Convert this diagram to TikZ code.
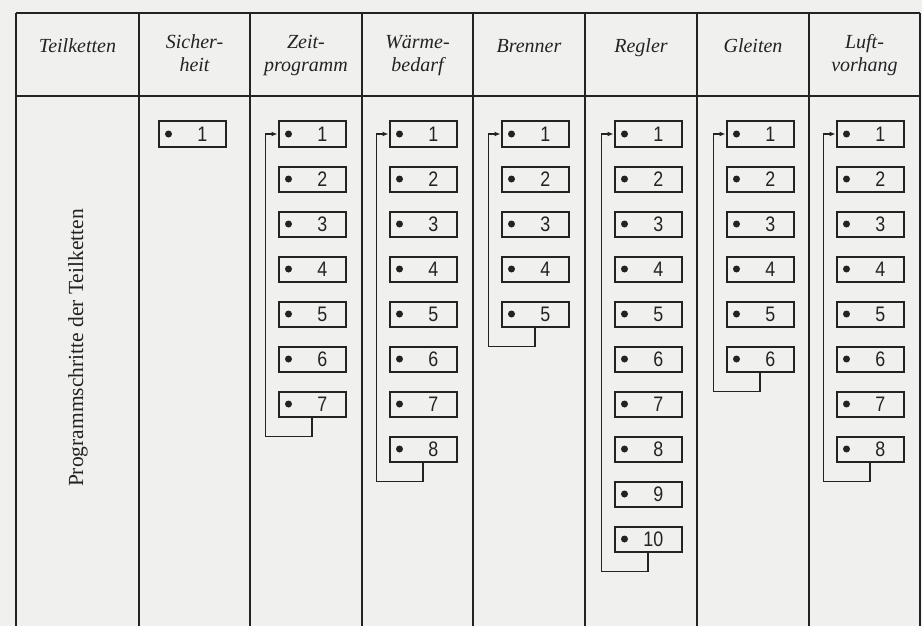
\documentclass[tikz,border=0pt]{standalone}
\usepackage{fontspec}
\setmainfont{Liberation Serif}
\newfontfamily\ziffern[FakeStretch=0.85]{Liberation Sans}
\usepackage{tikz}
\usetikzlibrary{arrows.meta,positioning}
\definecolor{papier}{RGB}{240,240,239}
\definecolor{tinte}{RGB}{35,35,35}

\begin{document}
\begin{tikzpicture}[x=1pt,y=-1pt,
    linie/.style={tinte,line width=1.2pt},
    kopf/.style={font=\fontsize{20}{23}\selectfont\itshape,align=center,anchor=base,inner sep=0pt,text=tinte},
    schritt/.style={draw=tinte,line width=2pt,minimum width=67pt,minimum height=25pt,inner sep=0pt},
    nummer/.style={font=\ziffern\fontsize{21}{21}\selectfont,anchor=east,inner sep=0pt,text=tinte},
    schleife/.style={tinte,line width=1.4pt,-{Latex[length=6pt,width=5pt]}}]
	\useasboundingbox (0,0) rectangle (922,626);
	\fill[papier] (0,0) rectangle (922,626);

	% Tabelle
	\draw[linie] (16,13) -- (920,13);
	\draw[linie] (16,96) -- (920,96);
	\foreach \x in {16,139,250,362,473,585,697,809,920}
		\draw[linie] (\x,13) -- (\x,626);

	% Kopfzeile
	\node[kopf] (h-teil) at (77.5,53) {Teilketten};
	\node[kopf] (h-sich) at (194.5,72) {Sicher-\\heit};
	\node[kopf] (h-zeit) at (306,72) {Zeit-\\programm};
	\node[kopf] (h-waerme) at (417.5,72) {Wärme-\\bedarf};
	\node[kopf] (h-brenner) at (529,53) {Brenner};
	\node[kopf] (h-regler) at (641,53) {Regler};
	\node[kopf] (h-gleiten) at (753,53) {Gleiten};
	\node[kopf] (h-luft) at (864.5,72) {Luft-\\vorhang};

	\node[rotate=90,text=tinte,font=\fontsize{21.5}{21.5}\selectfont] (programm) at (78,348) {Programmschritte der Teilketten};

	% Programmschritte
	\foreach \s/\x/\n in {sich/192/1,zeit/312/7,waerme/423/8,brenner/535/5,regler/648/10,gleiten/760/6,luft/870/8}{
		\foreach \i in {1,...,\n}{
			\node[schritt] (\s-\i) at (\x,{134+45*(\i-1)}) {};
			\fill[tinte] ([xshift=11pt]\s-\i.west) circle (3.5pt);
			\node[nummer] (\s-\i-nr) at ([xshift=50pt]\s-\i.west) {\i};
		}
	}

	% Ruecksprung
	\foreach \s/\n in {zeit/7,waerme/8,brenner/5,regler/10,gleiten/6,luft/8}
		\draw[schleife] (\s-\n.south) -- ++(0,19) -| ([xshift=-12pt]\s-1.west) -- (\s-1.west);
\end{tikzpicture}
\end{document}
